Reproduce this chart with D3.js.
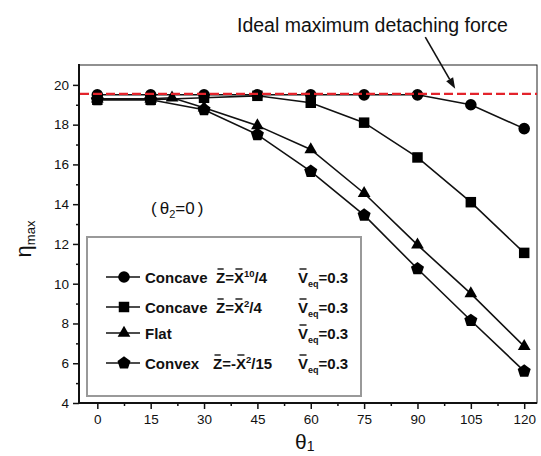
<!DOCTYPE html>
<html>
<head>
<meta charset="utf-8">
<script src="https://cdn.jsdelivr.net/npm/d3@7"></script>
<style>
  body { margin: 0; background: #fff; }
  svg { display: block; }
  text { font-family: "Liberation Sans", Arial, sans-serif; fill: #111; }
</style>
</head>
<body>
<svg id="chart" width="541" height="456"></svg>
<script>
// Detaching angle theta1 (deg) and the maximum detaching force eta_max per surface shape
const angles = [0, 15, 30, 45, 60, 75, 90, 105, 120];
const concave10 = [19.5, 19.5, 19.5, 19.5, 19.5, 19.5, 19.5, 19.0, 17.8];
const concave2 = [19.25, 19.25, 19.35, 19.45, 19.1, 18.1, 16.35, 14.1, 11.55];
const flatAngles = [0, 15, 21, 30, 45, 60, 75, 90, 105, 120];
const flat = [19.3, 19.3, 19.35, 18.85, 17.95, 16.75, 14.55, 11.95, 9.5, 6.85];
const convex = [19.25, 19.25, 18.75, 17.5, 15.65, 13.45, 10.75, 8.15, 5.6];
const idealForce = 19.55;

const xTicks = [0, 15, 30, 45, 60, 75, 90, 105, 120];
const xMinorTicks = [7.5, 22.5, 37.5, 52.5, 67.5, 82.5, 97.5, 112.5];
const yTicks = [4, 6, 8, 10, 12, 14, 16, 18, 20];
const yMinorTicks = [5, 7, 9, 11, 13, 15, 17, 19];

// Arrow annotation pointing at the ideal force line (data units)
const arrowFrom = [92.2, 22.4];
const arrowTo = [100.6, 19.8];

const svg = d3.select("#chart");
const x = d3.scaleLinear().domain([-5.15, 123.6]).range([79, 537]);
const y = d3.scaleLinear().domain([4, 21]).range([403, 65]);

// regular pentagon, point up
const symbolPentagon = {
  draw(ctx, size) {
    const r = Math.sqrt(size / (2.5 * Math.sin(2 * Math.PI / 5)));
    for (let i = 0; i < 5; i++) {
      const a = -Math.PI / 2 + i * 2 * Math.PI / 5;
      const px = r * Math.cos(a), py = r * Math.sin(a);
      if (i === 0) ctx.moveTo(px, py); else ctx.lineTo(px, py);
    }
    ctx.closePath();
  }
};

const series = [
  { xs: angles, ys: concave10, sym: d3.symbolCircle, size: 106,
    name: [{ t: "Concave" }],
    formula: [{ t: "Z", bar: true }, { t: "=" }, { t: "X", bar: true }, { t: "10", sup: true }, { t: "/4" }], fx: 216 },
  { xs: angles, ys: concave2, sym: d3.symbolSquare, size: 110,
    name: [{ t: "Concave" }],
    formula: [{ t: "Z", bar: true }, { t: "=" }, { t: "X", bar: true }, { t: "2", sup: true }, { t: "/4" }], fx: 216 },
  { xs: flatAngles, ys: flat, sym: d3.symbolTriangle, size: 70,
    name: [{ t: "Flat" }], formula: [], fx: 216 },
  { xs: angles, ys: convex, sym: symbolPentagon, size: 112,
    name: [{ t: "Convex" }],
    formula: [{ t: "Z", bar: true }, { t: "=-" }, { t: "X", bar: true }, { t: "2", sup: true }, { t: "/15" }], fx: 213 }
];

// ---- axes ----
const xAxis = d3.axisBottom(x).tickValues(xTicks).tickSize(6).tickPadding(5).tickFormat(d3.format("d"));
const xMinor = d3.axisBottom(x).tickValues(xMinorTicks).tickSize(3).tickFormat("");
const yAxis = d3.axisLeft(y).tickValues(yTicks).tickSize(6).tickPadding(4).tickFormat(d3.format("d"));
const yMinor = d3.axisLeft(y).tickValues(yMinorTicks).tickSize(3).tickFormat("");

function styleAxis(g) {
  g.select(".domain").remove();
  g.selectAll(".tick line").attr("stroke", "#111").attr("stroke-width", 1.5);
  g.selectAll(".tick text").style("font-family", '"Liberation Sans", Arial, sans-serif')
    .style("font-size", "13.5px").attr("fill", "#222");
}
svg.append("g").attr("transform", "translate(0,403)").call(xAxis).call(styleAxis);
svg.append("g").attr("transform", "translate(0,403)").call(xMinor).call(styleAxis);
svg.append("g").attr("transform", "translate(79,0)").call(yAxis).call(styleAxis);
svg.append("g").attr("transform", "translate(79,0)").call(yMinor).call(styleAxis);

// frame: thin top/right, heavier left/bottom
svg.append("rect").attr("x", 79).attr("y", 65).attr("width", 458).attr("height", 338)
  .attr("fill", "none").attr("stroke", "#222").attr("stroke-width", 1);
svg.append("line").attr("x1", 79).attr("x2", 79).attr("y1", 64).attr("y2", 404)
  .attr("stroke", "#111").attr("stroke-width", 2);
svg.append("line").attr("x1", 78).attr("x2", 537).attr("y1", 403).attr("y2", 403)
  .attr("stroke", "#111").attr("stroke-width", 2);

// ---- axis titles ----
const yTitle = svg.append("text")
  .attr("transform", "translate(31,239) rotate(-90)")
  .attr("text-anchor", "middle");
yTitle.append("tspan").style("font-size", "22px").text("η");
yTitle.append("tspan").style("font-size", "13px").attr("dy", 4).text("max");

const xTitle = svg.append("text").attr("x", 295).attr("y", 449);
xTitle.append("tspan").style("font-size", "21px").text("θ");
xTitle.append("tspan").style("font-size", "14px").attr("dy", 2).text("1");

const cond = svg.append("text").attr("x", 151).attr("y", 213.5);
cond.append("tspan").style("font-size", "17px").text("(");
cond.append("tspan").style("font-size", "17px").attr("dx", 3).text("θ");
cond.append("tspan").style("font-size", "11px").attr("dy", 4).text("2");
cond.append("tspan").style("font-size", "17px").attr("dy", -4).text("=0");
cond.append("tspan").style("font-size", "17px").attr("dx", 3).text(")");

// ---- legend box ----
svg.append("rect").attr("x", 87).attr("y", 237).attr("width", 274).attr("height", 159)
  .attr("fill", "#fff").attr("stroke", "#999").attr("stroke-width", 2);

// ---- series ----
const line = d3.line().x(d => x(d[0])).y(d => y(d[1]));
series.forEach(s => {
  const pts = s.xs.map((v, i) => [v, s.ys[i]]);
  svg.append("path").attr("d", line(pts)).attr("fill", "none")
    .attr("stroke", "#111").attr("stroke-width", 1.6);
});
series.forEach(s => {
  const pts = s.xs.map((v, i) => [v, s.ys[i]]);
  const sym = d3.symbol().type(s.sym).size(s.size);
  svg.selectAll(null).data(pts).enter().append("path")
    .attr("d", sym).attr("transform", d => `translate(${x(d[0])},${y(d[1])})`)
    .attr("fill", "#000");
});

// ideal maximum detaching force
svg.append("line").attr("x1", 80).attr("x2", 537)
  .attr("y1", y(idealForce)).attr("y2", y(idealForce))
  .attr("stroke", "#e3232b").attr("stroke-width", 2.2).attr("stroke-dasharray", "9,4");

// annotation arrow and label
{
  const x1 = x(arrowFrom[0]), y1 = y(arrowFrom[1]), x2 = x(arrowTo[0]), y2 = y(arrowTo[1]);
  const ang = Math.atan2(y2 - y1, x2 - x1), L = 11, W = 4;
  const bx = x2 - L * Math.cos(ang), by = y2 - L * Math.sin(ang);
  svg.append("line").attr("x1", x1).attr("y1", y1).attr("x2", bx).attr("y2", by)
    .attr("stroke", "#111").attr("stroke-width", 1.6);
  svg.append("path").attr("fill", "#111").attr("d",
    `M${x2},${y2}L${bx + W * Math.sin(ang)},${by - W * Math.cos(ang)}L${bx - W * Math.sin(ang)},${by + W * Math.cos(ang)}Z`);
}
svg.append("text").attr("x", 237).attr("y", 31.5).style("font-size", "19.5px")
  .attr("fill", "#222").text("Ideal maximum detaching force");

// ---- legend entries ----
const legendRows = [277, 307, 333, 363];

function richText(parent, xPos, yPos, segs, size) {
  const t = parent.append("text").attr("x", xPos).attr("y", yPos)
    .style("font-size", size + "px").style("font-weight", "bold");
  const bars = [];
  let idx = 0, shift = 0;
  segs.forEach(sg => {
    const sp = t.append("tspan").text(sg.t);
    let target = 0;
    if (sg.sup) { sp.style("font-size", "9.5px"); target = -6; }
    if (sg.sub) { sp.style("font-size", "9px"); target = 4; }
    if (target !== shift) { sp.attr("dy", target - shift); shift = target; }
    if (sg.bar) bars.push(idx);
    idx += sg.t.length;
  });
  const node = t.node();
  bars.forEach(i => {
    const r = node.getExtentOfChar(i);
    parent.append("line").attr("x1", r.x + 1.5).attr("x2", r.x + r.width - 1.5)
      .attr("y1", r.y + 0.5).attr("y2", r.y + 0.5)
      .attr("stroke", "#111").attr("stroke-width", 1.4);
  });
  return t;
}

series.forEach((s, i) => {
  const ly = legendRows[i];
  svg.append("line").attr("x1", 106).attr("x2", 140).attr("y1", ly).attr("y2", ly)
    .attr("stroke", "#111").attr("stroke-width", 1.6);
  svg.append("path").attr("d", d3.symbol().type(s.sym).size(s.size))
    .attr("transform", `translate(124,${ly})`).attr("fill", "#000");
  richText(svg, 145, ly + 5.5, s.name, 15);
  if (s.formula.length) richText(svg, s.fx, ly + 5.5, s.formula, 15);
  richText(svg, 298, ly + 5.5,
    [{ t: "V", bar: true }, { t: "eq", sub: true }, { t: "=0.3" }], 15);
});
</script>
</body>
</html>
